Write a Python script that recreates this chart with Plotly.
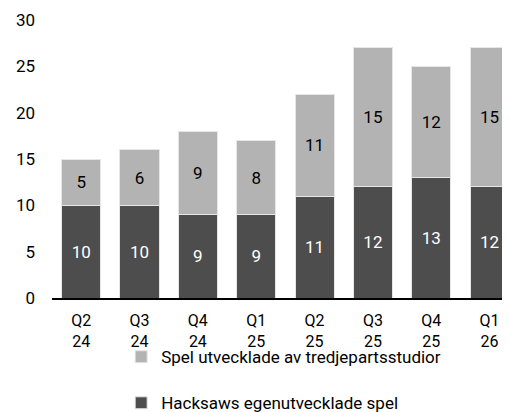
import plotly.graph_objects as go

quarters = ["Q2<br>24", "Q3<br>24", "Q4<br>24", "Q1<br>25", "Q2<br>25", "Q3<br>25", "Q4<br>25", "Q1<br>26"]
own_games = [10, 10, 9, 9, 11, 12, 13, 12]
third_party = [5, 6, 9, 8, 11, 15, 12, 15]

own_name = "Hacksaws egenutvecklade spel"
third_name = "Spel utvecklade av tredjepartsstudior"

fig = go.Figure()
fig.add_trace(go.Bar(
    x=quarters, y=own_games, name=own_name, legendgroup="own", legendrank=2,
    marker=dict(color="#4d4d4d", line=dict(color="#e6e6e6", width=1)),
    text=own_games, textposition="inside", insidetextanchor="middle",
    textfont=dict(color="white", size=17), textangle=0,
))
fig.add_trace(go.Bar(
    x=quarters, y=third_party, name=third_name, legendgroup="third", legendrank=1,
    marker=dict(color="#b3b3b3", line=dict(color="#e6e6e6", width=1)),
    text=third_party, textposition="inside", insidetextanchor="middle",
    textfont=dict(color="black", size=17), textangle=0,
))

# page body adds an 8px offset, so the figure is drawn a little smaller
fig.update_layout(
    width=502, height=404,
    barmode="stack", bargap=0.33,
    plot_bgcolor="white", paper_bgcolor="white",
    font=dict(family="Roboto", size=17, color="black"),
    margin=dict(l=44, r=0, t=12, b=114, autoexpand=False),
    uniformtext=dict(minsize=17, mode="show"),
    xaxis=dict(
        range=[-0.5, 7.35], showgrid=False, ticks="",
        showline=True, linecolor="black", linewidth=1.5,
        ticklabelstandoff=7, tickfont=dict(size=16),
    ),
    yaxis=dict(
        range=[0, 30], dtick=5, showgrid=False, zeroline=False,
        showline=False, ticks="", ticklabelstandoff=16,
    ),
    legend=dict(
        orientation="v", traceorder="grouped", tracegroupgap=21,
        x=0.151, xanchor="left", y=-0.148, yanchor="top",
        itemwidth=30, font=dict(size=17), bgcolor="rgba(0,0,0,0)",
    ),
)

fig.write_html("out.html")
